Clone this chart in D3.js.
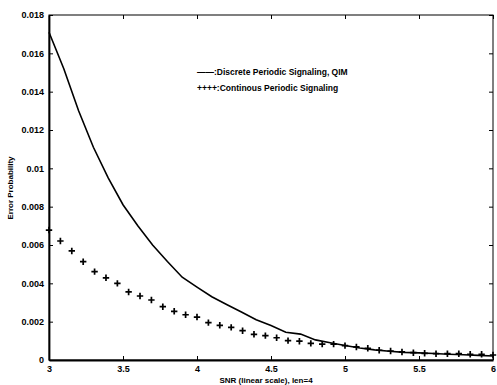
<!DOCTYPE html>
<html>
<head>
<meta charset="utf-8">
<script src="https://cdn.jsdelivr.net/npm/d3@7"></script>
<style>
  body { margin: 0; background: #fff; }
  svg { display: block; font-family: 'Liberation Sans', Arial, sans-serif; }
</style>
</head>
<body>
<svg id="chart" width="497" height="385"></svg>
<script>
// values
const xTicks = [3, 3.5, 4, 4.5, 5, 5.5, 6];
const xTickLabels = ['3', '3.5', '4', '4.5', '5', '5.5', '6'];
const yTicks = [0, 0.002, 0.004, 0.006, 0.008, 0.01, 0.012, 0.014, 0.016, 0.018];
const yTickLabels = ['0', '0.002', '0.004', '0.006', '0.008', '0.01', '0.012', '0.014', '0.016', '0.018'];

// solid line: Discrete Periodic Signaling, QIM
const discreteSnr = [3.0, 3.1, 3.2, 3.3, 3.4, 3.5, 3.6, 3.7, 3.8, 3.9, 4.0, 4.1, 4.2, 4.3, 4.4, 4.5,
  4.6, 4.7, 4.8, 4.9, 5.0, 5.1, 5.2, 5.3, 5.4, 5.5, 5.6, 5.7, 5.8, 5.9, 6.0];
const discreteErr = [0.0171, 0.0152, 0.0130, 0.0111, 0.0095, 0.0081, 0.0070, 0.0060, 0.00514, 0.00432,
  0.0038, 0.0033, 0.0029, 0.0025, 0.0021, 0.0018, 0.00145, 0.00135, 0.00105, 0.0009,
  0.00076, 0.00063, 0.00053, 0.00046, 0.0004, 0.00037, 0.00034, 0.0003, 0.00027, 0.00024, 0.00021];

// plus markers: Continous Periodic Signaling
const contSnr = [3.000, 3.077, 3.154, 3.231, 3.308, 3.385, 3.462, 3.538, 3.615, 3.692,
  3.769, 3.846, 3.923, 4.000, 4.077, 4.154, 4.231, 4.308, 4.385, 4.462,
  4.538, 4.615, 4.692, 4.769, 4.846, 4.923, 5.000, 5.077, 5.154, 5.231,
  5.308, 5.385, 5.462, 5.538, 5.615, 5.692, 5.769, 5.846, 5.923, 6.000];
const contErr = [0.00678, 0.00621, 0.00569, 0.00513, 0.00461, 0.00429, 0.00400, 0.00355, 0.00334, 0.00313,
  0.00278, 0.00254, 0.00236, 0.00224, 0.00195, 0.00181, 0.00170, 0.00153, 0.00134, 0.00127,
  0.00116, 0.00101, 0.00098, 0.00087, 0.00083, 0.00083, 0.00075, 0.00068, 0.00061, 0.00051,
  0.00047, 0.00042, 0.00038, 0.00035, 0.00033, 0.00033, 0.00033, 0.00030, 0.00030, 0.00026];

const margin = { top: 15, right: 4, bottom: 25, left: 49 };
const width = 497, height = 385;

const svg = d3.select('#chart');

const x = d3.scaleLinear().domain([3, 6]).range([margin.left, width - margin.right]);
const y = d3.scaleLinear().domain([0, 0.018]).range([height - margin.bottom, margin.top]);

const tickLen = 4;

// frame
svg.append('rect')
  .attr('x', x(3)).attr('y', y(0.018))
  .attr('width', x(6) - x(3)).attr('height', y(0) - y(0.018))
  .attr('fill', 'none').attr('stroke', '#000').attr('stroke-width', 1);

// bottom axis
const xAxis = svg.append('g')
  .attr('transform', 'translate(0,' + y(0) + ')')
  .call(d3.axisBottom(x).tickValues(xTicks).tickSizeInner(-tickLen).tickSizeOuter(0)
    .tickFormat((d, i) => xTickLabels[i]));
xAxis.select('.domain').attr('stroke-width', 1.8);
xAxis.selectAll('text').attr('dy', '0.95em').attr('y', 3)
  .attr('font-size', 9).attr('font-weight', 'bold').attr('fill', '#000');

// left axis
const yAxis = svg.append('g')
  .attr('transform', 'translate(' + x(3) + ',0)')
  .call(d3.axisLeft(y).tickValues(yTicks).tickSizeInner(-tickLen).tickSizeOuter(0)
    .tickFormat((d, i) => yTickLabels[i]));
yAxis.select('.domain').attr('stroke-width', 1.8);
yAxis.selectAll('text').attr('x', -5)
  .attr('font-size', 9).attr('font-weight', 'bold').attr('fill', '#000');

// top and right ticks (inward)
svg.append('g')
  .attr('transform', 'translate(0,' + y(0.018) + ')')
  .call(d3.axisTop(x).tickValues(xTicks).tickSizeInner(-tickLen).tickSizeOuter(0).tickFormat(''))
  .select('.domain').remove();
svg.append('g')
  .attr('transform', 'translate(' + x(6) + ',0)')
  .call(d3.axisRight(y).tickValues(yTicks).tickSizeInner(-tickLen).tickSizeOuter(0).tickFormat(''))
  .select('.domain').remove();

// solid line
const lineData = discreteSnr.map((s, i) => ({ x: s, y: discreteErr[i] }));
svg.append('path')
  .datum(lineData)
  .attr('fill', 'none')
  .attr('stroke', '#000')
  .attr('stroke-width', 1.6)
  .attr('d', d3.line().x(d => x(d.x)).y(d => y(d.y)));

// plus markers
const plusData = contSnr.map((s, i) => ({ x: s, y: contErr[i] }));
const ps = 3.2;
svg.append('g').selectAll('path')
  .data(plusData)
  .join('path')
  .attr('fill', 'none')
  .attr('stroke', '#000')
  .attr('stroke-width', 1.7)
  .attr('d', d => {
    const cx = x(d.x), cy = y(d.y);
    return 'M' + (cx - ps) + ',' + cy + 'H' + (cx + ps) + 'M' + cx + ',' + (cy - ps) + 'V' + (cy + ps);
  });

// legend
svg.append('text')
  .attr('x', 197).attr('y', 75)
  .attr('font-size', 8.5).attr('font-weight', 'bold')
  .text('——:Discrete Periodic Signaling, QIM');
svg.append('text')
  .attr('x', 197).attr('y', 91)
  .attr('font-size', 8.5).attr('font-weight', 'bold')
  .text('++++:Continous Periodic Signaling');

// axis titles
svg.append('text')
  .attr('x', 266).attr('y', 383)
  .attr('text-anchor', 'middle')
  .attr('font-size', 8).attr('font-weight', 'bold')
  .text('SNR (linear scale),  len=4');
svg.append('text')
  .attr('transform', 'translate(13,' + 188 + ') rotate(-90)')
  .attr('text-anchor', 'middle')
  .attr('font-size', 8).attr('font-weight', 'bold')
  .text('Error Probability');
</script>
</body>
</html>
